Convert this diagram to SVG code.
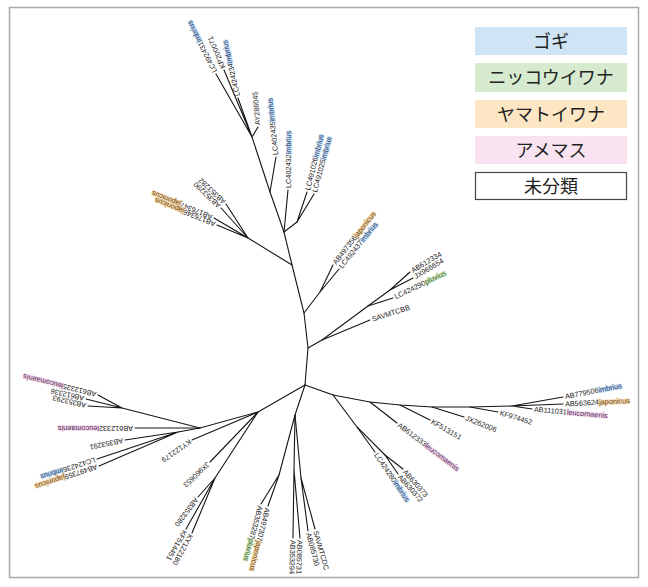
<svg xmlns="http://www.w3.org/2000/svg" width="648" height="587" viewBox="0 0 648 587">
<style>
.e{stroke:#151515;stroke-width:1.1;fill:none;stroke-linecap:round}
.l{font-family:"Liberation Sans",Arial,sans-serif;font-size:7.3px;fill:#1a1a1a}
.im{fill:#1d3a6e;stroke:#c6def2;stroke-width:1.7px;paint-order:stroke;stroke-linejoin:round}
.lc{fill:#5a2f5e;stroke:#f0d5e8;stroke-width:1.7px;paint-order:stroke;stroke-linejoin:round}
.jp{fill:#6e4512;stroke:#f6dcb0;stroke-width:1.7px;paint-order:stroke;stroke-linejoin:round}
.pl{fill:#3c6a22;stroke:#d3e9c8;stroke-width:1.7px;paint-order:stroke;stroke-linejoin:round}
.lg{font-family:"Noto Sans CJK JP","Noto Sans",sans-serif;font-size:18px;fill:#222;text-anchor:middle}
</style>
<rect x="9.5" y="7.5" width="629" height="570" fill="#fff" stroke="#a8a8a8" stroke-width="1.5"/>
<g id="legend">
<g id="leg-gogi"><rect x="475" y="27" width="152" height="28" fill="#cfe5f6"/><text class="lg" x="551" y="47.5">ゴギ</text></g>
<g id="leg-nikko"><rect x="475" y="63" width="152" height="29" fill="#d6eacf"/><text class="lg" x="551" y="84">ニッコウイワナ</text></g>
<g id="leg-yamato"><rect x="475" y="100" width="152" height="28" fill="#fde6c4"/><text class="lg" x="551" y="120.5">ヤマトイワナ</text></g>
<g id="leg-amemasu"><rect x="475" y="136" width="152" height="28" fill="#f9e3f0"/><text class="lg" x="551" y="156.5">アメマス</text></g>
<g id="leg-unclass"><rect x="475.5" y="172.5" width="151" height="27" fill="#fff" stroke="#444" stroke-width="1.2"/><text class="lg" x="551" y="192.5">未分類</text></g>
</g>
<g id="connectors" class="e">
<path d="M305,385 L308,348 L304,313 L292,265 L284,232 L270,192 L252,137"/>
<path d="M284,232 L297,222"/>
<path d="M292,265 L248,238"/>
<path d="M304,313 L320,292"/>
<path d="M308,348 L322,340 L368,306 L390,290"/>
<path d="M305,385 L258,412 L200,428 L122,408"/>
<path d="M200,428 L178,432"/>
<path d="M258,412 L215,478"/>
<path d="M305,385 L295,415 L279,475"/>
<path d="M295,415 L294,470"/>
<path d="M295,415 L301,478"/>
<path d="M305,385 L333,395 L357,427 L385,455"/>
<path d="M333,395 L370,402 L400,405 L432,407 L470,407 L512,406"/>
<path d="M252,137 L216,74 M252,137 L224,70 M252,137 L238,98 M252,137 L258,127"/>
<path d="M270,192 L276,157 M284,232 L288,190"/>
<path d="M297,222 L307,192 M297,222 L314,194"/>
<path d="M248,238 L221,208 M248,238 L226,204 M248,238 L214,218 M248,238 L217,225"/>
<path d="M320,292 L333,265 M320,292 L339,269"/>
<path d="M390,290 L410,272 M390,290 L413,278 M368,306 L393,298 M322,340 L370,320"/>
<path d="M122,408 L98,395 M122,408 L86,399 M122,408 L88,406 M200,428 L135,428"/>
<path d="M178,432 L125,440 M178,432 L97,459 M178,432 L99,466"/>
<path d="M258,412 L192,440 M258,412 L210,462"/>
<path d="M215,478 L198,497 M215,478 L186,529 M215,478 L192,533"/>
<path d="M279,475 L261,504 M279,475 L268,506 M294,470 L293,538 M294,470 L300,538 M301,478 L308,531 M301,478 L315,529"/>
<path d="M357,427 L375,452 M385,455 L403,469 M385,455 L398,474 M370,402 L397,423 M400,405 L430,420"/>
<path d="M432,407 L464,417 M470,407 L498,412 M512,406 L532,409 M512,406 L563,397 M512,406 L563,404"/>
</g>
<g id="leaves" class="l">
<g id="n1"><text transform="translate(216,74) rotate(-117)" x="2" y="2.5">LC492431<tspan class="im">imbrius</tspan></text></g>
<g id="n2"><text transform="translate(224,70) rotate(-113)" x="2" y="2.5">KP200071</text></g>
<g id="n3"><text transform="translate(238,98) rotate(-103)" x="2" y="2.5">LC424234<tspan class="im">imbrius</tspan></text></g>
<g id="n4"><text transform="translate(258,127) rotate(-95)" x="2" y="2.5">AY286045</text></g>
<g id="n5"><text transform="translate(276,157) rotate(-96)" x="2" y="2.5">LC402435<tspan class="im">imbrius</tspan></text></g>
<g id="n6"><text transform="translate(288,190) rotate(-90)" x="2" y="2.5">LC402432<tspan class="im">imbrius</tspan></text></g>
<g id="n7"><text transform="translate(307,192) rotate(-76)" x="2" y="2.5">LC491026<tspan class="im">imbrius</tspan></text></g>
<g id="n8"><text transform="translate(314,194) rotate(-75)" x="2" y="2.5">LC491025<tspan class="im">imbrius</tspan></text></g>
<g id="n9"><text transform="translate(221,208) rotate(-137)" x="2" y="2.5">AB353290</text></g>
<g id="n10"><text transform="translate(226,204) rotate(-137)" x="2" y="2.5">AB353282</text></g>
<g id="n11"><text transform="translate(214,218) rotate(-158)" x="2" y="2.5">AB176347<tspan class="jp">japonicus</tspan></text></g>
<g id="n12"><text transform="translate(217,225) rotate(-158)" x="2" y="2.5">AB176346<tspan class="jp">japonicus</tspan></text></g>
<g id="n13"><text transform="translate(333,265) rotate(-52)" x="2" y="2.5">AB497356<tspan class="jp">japonicus</tspan></text></g>
<g id="n14"><text transform="translate(339,269) rotate(-51)" x="2" y="2.5">LC492437<tspan class="im">imbrius</tspan></text></g>
<g id="n15"><text transform="translate(410,272) rotate(-31)" x="2" y="2.5">AB612334</text></g>
<g id="n16"><text transform="translate(413,278) rotate(-31)" x="2" y="2.5">JX966654</text></g>
<g id="n17"><text transform="translate(393,298) rotate(-26)" x="2" y="2.5">LC424290<tspan class="pl">pluvius</tspan></text></g>
<g id="n18"><text transform="translate(370,320) rotate(-18)" x="2" y="2.5">SAVMTCBB</text></g>
<g id="n19"><text transform="translate(98,395) rotate(194)" x="2" y="2.5">AB612335<tspan class="lc">leucomaenis</tspan></text></g>
<g id="n20"><text transform="translate(86,399) rotate(193)" x="2" y="2.5">AB612336</text></g>
<g id="n21"><text transform="translate(88,406) rotate(193)" x="2" y="2.5">AB353293</text></g>
<g id="n22"><text transform="translate(135,428) rotate(180)" x="2" y="2.5">AB612332<tspan class="lc">leucomaenis</tspan></text></g>
<g id="n23"><text transform="translate(125,440) rotate(168)" x="2" y="2.5">AB353291</text></g>
<g id="n24"><text transform="translate(97,459) rotate(162)" x="2" y="2.5">LC424236<tspan class="im">imbrius</tspan></text></g>
<g id="n25"><text transform="translate(99,466) rotate(162)" x="2" y="2.5">AB497359<tspan class="jp">japonicus</tspan></text></g>
<g id="n26"><text transform="translate(192,440) rotate(145)" x="2" y="2.5">KY122179</text></g>
<g id="n27"><text transform="translate(210,462) rotate(137)" x="2" y="2.5">JX960653</text></g>
<g id="n28"><text transform="translate(198,497) rotate(127)" x="2" y="2.5">AB353280</text></g>
<g id="n29"><text transform="translate(186,529) rotate(120)" x="2" y="2.5">KF514451</text></g>
<g id="n30"><text transform="translate(192,533) rotate(119)" x="2" y="2.5">KY122180</text></g>
<g id="n31"><text transform="translate(261,504) rotate(105)" x="2" y="2.5">AB353287<tspan class="pl">pluvius</tspan></text></g>
<g id="n32"><text transform="translate(268,506) rotate(104)" x="2" y="2.5">AB497307<tspan class="jp">japonicus</tspan></text></g>
<g id="n33"><text transform="translate(293,538) rotate(92)" x="2" y="2.5">AB353294</text></g>
<g id="n34"><text transform="translate(300,538) rotate(92)" x="2" y="2.5">AB085731</text></g>
<g id="n35"><text transform="translate(308,531) rotate(75)" x="2" y="2.5">AB085730</text></g>
<g id="n36"><text transform="translate(315,529) rotate(74)" x="2" y="2.5">SAVMTCDC</text></g>
<g id="n37"><text transform="translate(375,452) rotate(56)" x="2" y="2.5">LC424280<tspan class="im">imbrius</tspan></text></g>
<g id="n38"><text transform="translate(403,469) rotate(49)" x="2" y="2.5">AB630373</text></g>
<g id="n39"><text transform="translate(398,474) rotate(49)" x="2" y="2.5">AB630372</text></g>
<g id="n40"><text transform="translate(397,423) rotate(37)" x="2" y="2.5">AB612333<tspan class="lc">leucomaenis</tspan></text></g>
<g id="n41"><text transform="translate(430,420) rotate(30)" x="2" y="2.5">KF513151</text></g>
<g id="n42"><text transform="translate(464,417) rotate(22)" x="2" y="2.5">JX262006</text></g>
<g id="n43"><text transform="translate(498,412) rotate(17)" x="2" y="2.5">KF974452</text></g>
<g id="n44"><text transform="translate(532,409) rotate(5)" x="2" y="2.5">AB111031<tspan class="lc">leucomaenis</tspan></text></g>
<g id="n45"><text transform="translate(563,397) rotate(-11)" x="2" y="2.5">AB779506<tspan class="im">imbrius</tspan></text></g>
<g id="n46"><text transform="translate(563,404) rotate(-3)" x="2" y="2.5">AB563624<tspan class="jp">japonicus</tspan></text></g>
</g>
</svg>
